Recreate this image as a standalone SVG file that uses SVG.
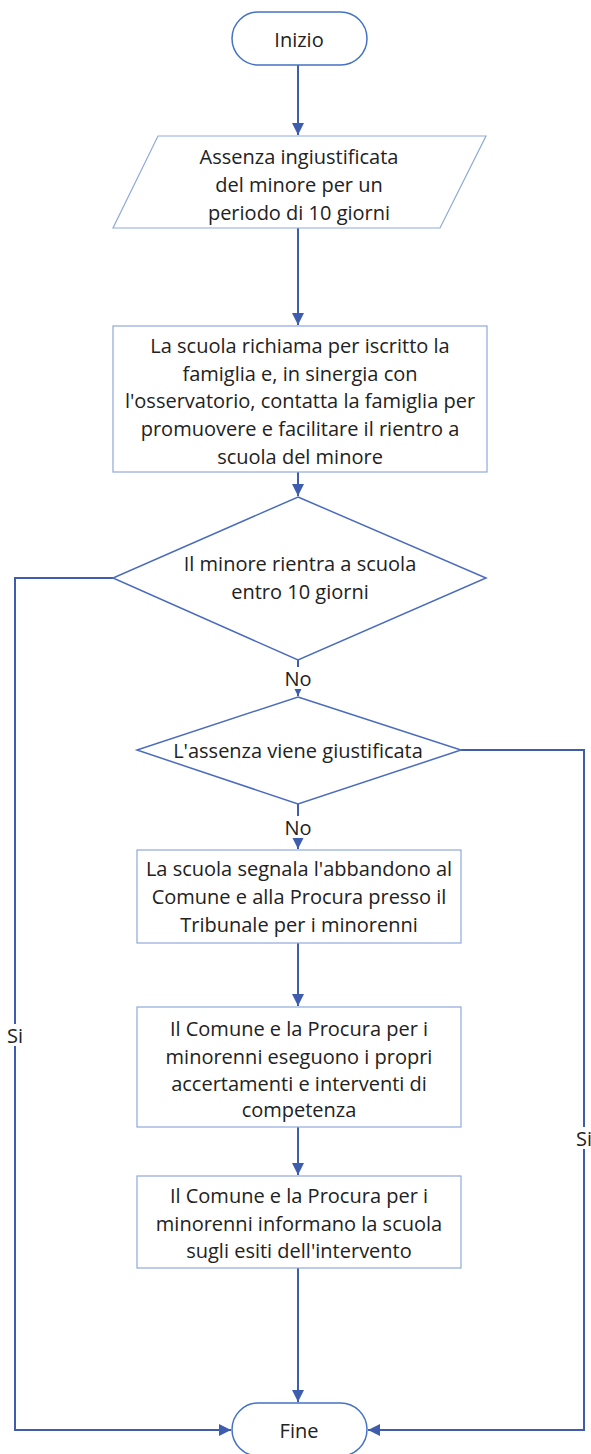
<svg xmlns="http://www.w3.org/2000/svg" width="591" height="1454" viewBox="0 0 591 1454">
<style>
.term{fill:#fff;stroke:#4472C4;stroke-width:1.5}
.box{fill:#fff;stroke:#8EA9DB;stroke-width:1.2}
.dia{fill:#fff;stroke:#4A6BBE;stroke-width:1.5}
.t{font-family:"Open Sans","Noto Sans","Liberation Sans",sans-serif;font-size:20px;fill:#222;text-anchor:middle;dominant-baseline:central}
.c{fill:none;stroke:#3F5DAE;stroke-width:2}
</style>
<defs>
<marker id="ah" viewBox="0 0 10 10" refX="10" refY="5" markerWidth="6" markerHeight="6" orient="auto" markerUnits="strokeWidth">
<path d="M0,0 L10,5 L0,10 z" fill="#3F5DAE"/>
</marker>
</defs>
<rect width="591" height="1454" fill="#fff"/>
<g id="connectors">
<path class="c" d="M298,65 V135" marker-end="url(#ah)"/>
<path class="c" d="M298,228 V325" marker-end="url(#ah)"/>
<path class="c" d="M298,472 V496" marker-end="url(#ah)"/>
<path class="c" d="M298,660 V696" marker-end="url(#ah)"/>
<path class="c" d="M298,804 V849" marker-end="url(#ah)"/>
<path class="c" d="M298,943 V1006" marker-end="url(#ah)"/>
<path class="c" d="M298,1127 V1175" marker-end="url(#ah)"/>
<path class="c" d="M298,1268 V1402" marker-end="url(#ah)"/>
<path class="c" d="M113,578 H15 V1430 H231" marker-end="url(#ah)"/>
<path class="c" d="M461,750 H584 V1430 H368" marker-end="url(#ah)"/>
<rect x="283" y="667" width="30" height="22" fill="#fff"/>
<text class="t" x="298" y="678">No</text>
<rect x="283" y="816" width="30" height="22" fill="#fff"/>
<text class="t" x="298" y="827">No</text>
<rect x="5" y="1024" width="20" height="22" fill="#fff"/>
<text class="t" x="15" y="1035">Si</text>
<rect x="574" y="1127" width="20" height="22" fill="#fff"/>
<text class="t" x="584" y="1138">Si</text>
</g>
<g id="inizio">
<rect class="term" x="232" y="12" width="135" height="53" rx="26.5"/>
<text class="t" x="299" y="39">Inizio</text>
</g>
<g id="assenza">
<polygon class="box" points="158,136 486,136 440,228 113,228"/>
<text class="t" x="299" y="156">Assenza ingiustificata</text>
<text class="t" x="299" y="184">del minore per un</text>
<text class="t" x="299" y="212">periodo di 10 giorni</text>
</g>
<g id="richiamo">
<rect class="box" x="113" y="326" width="374" height="146"/>
<text class="t" x="300" y="345">La scuola richiama per iscritto la</text>
<text class="t" x="300" y="373">famiglia e, in sinergia con</text>
<text class="t" x="300" y="400">l'osservatorio, contatta la famiglia per</text>
<text class="t" x="300" y="428">promuovere e facilitare il rientro a</text>
<text class="t" x="300" y="456">scuola del minore</text>
</g>
<g id="rientro">
<polygon class="dia" points="298,497 486,578 298,660 113,578"/>
<text class="t" x="300" y="563">Il minore rientra a scuola</text>
<text class="t" x="300" y="591">entro 10 giorni</text>
</g>
<g id="giustificata">
<polygon class="dia" points="298,697 461,750 298,804 137,750"/>
<text class="t" x="298" y="750">L'assenza viene giustificata</text>
</g>
<g id="segnala">
<rect class="box" x="137" y="850" width="324" height="93"/>
<text class="t" x="299" y="868">La scuola segnala l'abbandono al</text>
<text class="t" x="299" y="896">Comune e alla Procura presso il</text>
<text class="t" x="299" y="924">Tribunale per i minorenni</text>
</g>
<g id="accertamenti">
<rect class="box" x="137" y="1007" width="324" height="120"/>
<text class="t" x="299" y="1028">Il Comune e la Procura per i</text>
<text class="t" x="299" y="1056">minorenni eseguono i propri</text>
<text class="t" x="299" y="1083">accertamenti e interventi di</text>
<text class="t" x="299" y="1109">competenza</text>
</g>
<g id="informano">
<rect class="box" x="137" y="1176" width="324" height="92"/>
<text class="t" x="299" y="1195">Il Comune e la Procura per i</text>
<text class="t" x="299" y="1223">minorenni informano la scuola</text>
<text class="t" x="299" y="1250">sugli esiti dell'intervento</text>
</g>
<g id="fine">
<rect class="term" x="232" y="1403" width="135" height="53" rx="26.5"/>
<text class="t" x="299" y="1430">Fine</text>
</g>
</svg>
